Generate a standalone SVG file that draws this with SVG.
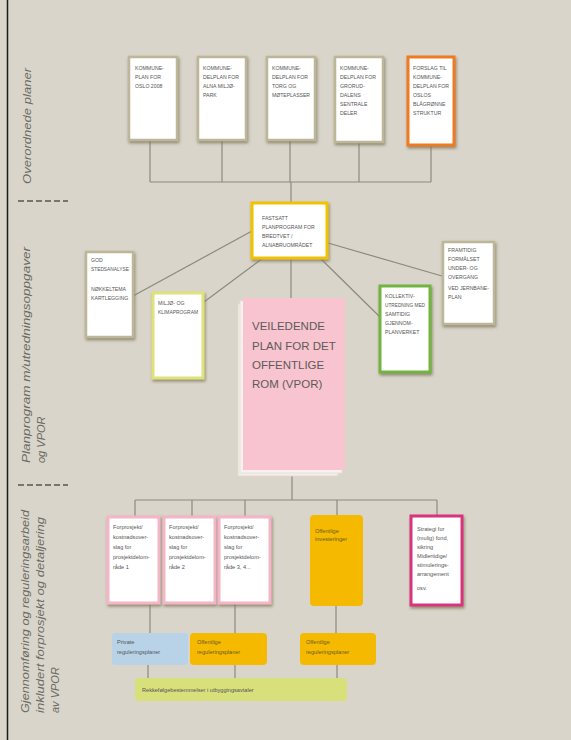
<svg xmlns="http://www.w3.org/2000/svg" width="571" height="740" viewBox="0 0 571 740">
<defs>
<filter id="sh" x="-20%" y="-20%" width="140%" height="140%">
<feGaussianBlur in="SourceAlpha" stdDeviation="1.5"/>
<feOffset dx="1" dy="2" result="b"/>
<feFlood flood-color="#7d7658" flood-opacity="0.8"/>
<feComposite in2="b" operator="in"/>
<feMerge><feMergeNode/><feMergeNode in="SourceGraphic"/></feMerge>
</filter>
</defs>
<style>
.bx{fill:#ffffff;stroke:#bdb699;stroke-width:2.5;filter:url(#sh)}
.t{font-family:"Liberation Sans",Arial,sans-serif;font-size:5.2px;fill:#555}
.tl{font-family:"Liberation Sans",Arial,sans-serif;font-size:5.6px;fill:#555}
.lab{font-family:"Liberation Sans",Arial,sans-serif;font-size:11px;font-style:italic;fill:#6a6a64}
.vp{font-family:"Liberation Sans",Arial,sans-serif;font-size:11.5px;fill:#5e5a5a}
.ln{stroke:#8b8a80;stroke-width:1.2;fill:none}
.dash{stroke:#77766e;stroke-width:2;stroke-dasharray:6 3}
</style>
<rect x="0" y="0" width="571" height="740" fill="#d9d5ca"/>
<line x1="7.5" y1="0" x2="7.5" y2="740" stroke="#1a1a1a" stroke-width="1.5"/>

<g id="labels">
<text class="lab" transform="translate(31,184) rotate(-90)" textLength="116" lengthAdjust="spacingAndGlyphs">Overordnede planer</text>
<text class="lab" transform="translate(30,463) rotate(-90)" textLength="216" lengthAdjust="spacingAndGlyphs">Planprogram m/utredningsoppgaver</text>
<text class="lab" transform="translate(45,463) rotate(-90)">og VPOR</text>
<text class="lab" transform="translate(29,713) rotate(-90)" textLength="203" lengthAdjust="spacingAndGlyphs">Gjennomføring og reguleringsarbeid</text>
<text class="lab" transform="translate(44,713) rotate(-90)" textLength="196" lengthAdjust="spacingAndGlyphs">inkludert forprosjekt og detaljering</text>
<text class="lab" transform="translate(59,713) rotate(-90)">av VPOR</text>
<line class="dash" x1="18" y1="201" x2="68" y2="201"/>
<line class="dash" x1="18" y1="485" x2="68" y2="485"/>
</g>

<g id="connectors">
<line class="ln" x1="150" y1="140" x2="150" y2="182"/>
<line class="ln" x1="222" y1="140" x2="222" y2="182"/>
<line class="ln" x1="290" y1="140" x2="290" y2="182"/>
<line class="ln" x1="359" y1="142" x2="359" y2="182"/>
<line class="ln" x1="431" y1="145" x2="431" y2="182"/>
<line class="ln" x1="150" y1="182" x2="431" y2="182"/>
<line class="ln" x1="291" y1="182" x2="291" y2="203"/>
<line class="ln" x1="252" y1="231" x2="133" y2="296"/>
<line class="ln" x1="263" y1="258" x2="204" y2="302"/>
<line class="ln" x1="291" y1="258" x2="291" y2="298"/>
<line class="ln" x1="320" y1="258" x2="381" y2="318"/>
<line class="ln" x1="328" y1="243" x2="442" y2="276"/>
<line class="ln" x1="292" y1="472" x2="292" y2="500"/>
<line class="ln" x1="135" y1="500" x2="437" y2="500"/>
<line class="ln" x1="135" y1="500" x2="135" y2="517"/>
<line class="ln" x1="192" y1="500" x2="192" y2="517"/>
<line class="ln" x1="245" y1="500" x2="245" y2="517"/>
<line class="ln" x1="337" y1="500" x2="337" y2="515"/>
<line class="ln" x1="437" y1="500" x2="437" y2="515"/>
<line class="ln" x1="150" y1="603" x2="150" y2="633"/>
<line class="ln" x1="235" y1="603" x2="235" y2="633"/>
<line class="ln" x1="336" y1="606" x2="336" y2="633"/>
<line class="ln" x1="148" y1="665" x2="148" y2="678"/>
<line class="ln" x1="235" y1="665" x2="235" y2="678"/>
<line class="ln" x1="337" y1="665" x2="337" y2="678"/>
</g>

<g id="top1">
<rect class="bx" x="129" y="57" width="48" height="83"/>
<text class="t" x="135" y="70">KOMMUNE-</text>
<text class="t" x="135" y="79">PLAN FOR</text>
<text class="t" x="135" y="88">OSLO 2008</text>
</g>
<g id="top2">
<rect class="bx" x="198" y="57" width="48" height="83"/>
<text class="t" x="203" y="70">KOMMUNE-</text>
<text class="t" x="203" y="79">DELPLAN FOR</text>
<text class="t" x="203" y="88">ALNA MILJØ-</text>
<text class="t" x="203" y="97">PARK</text>
</g>
<g id="top3">
<rect class="bx" x="267" y="57" width="48" height="83"/>
<text class="t" x="272" y="70">KOMMUNE-</text>
<text class="t" x="272" y="79">DELPLAN FOR</text>
<text class="t" x="272" y="88">TORG OG</text>
<text class="t" x="272" y="97" textLength="38" lengthAdjust="spacingAndGlyphs">MØTEPLASSER</text>
</g>
<g id="top4">
<rect class="bx" x="335" y="57" width="48" height="85"/>
<text class="t" x="340" y="70">KOMMUNE-</text>
<text class="t" x="340" y="79">DELPLAN FOR</text>
<text class="t" x="340" y="88">GRORUD-</text>
<text class="t" x="340" y="97">DALENS</text>
<text class="t" x="340" y="106">SENTRALE</text>
<text class="t" x="340" y="115">DELER</text>
</g>
<g id="top5">
<rect class="bx" x="408" y="57" width="46" height="88" style="stroke:#ee7a22;stroke-width:3"/>
<text class="t" x="413" y="70">FORSLAG TIL</text>
<text class="t" x="413" y="79">KOMMUNE-</text>
<text class="t" x="413" y="88">DELPLAN FOR</text>
<text class="t" x="413" y="97">OSLOS</text>
<text class="t" x="413" y="106">BLÅGRØNNE</text>
<text class="t" x="413" y="115">STRUKTUR</text>
</g>

<g id="planprogram">
<rect class="bx" x="252" y="203" width="75" height="55" style="stroke:#f2c200;stroke-width:3"/>
<text class="t" x="262" y="220">FASTSATT</text>
<text class="t" x="262" y="229">PLANPROGRAM FOR</text>
<text class="t" x="262" y="238">BREDTVET /</text>
<text class="t" x="262" y="247">ALNABRUOMRÅDET</text>
</g>
<g id="stedsanalyse">
<rect class="bx" x="86" y="252" width="47" height="85"/>
<text class="t" x="91" y="262">GOD</text>
<text class="t" x="91" y="271" textLength="38" lengthAdjust="spacingAndGlyphs">STEDSANALYSE</text>
<text class="t" x="91" y="291">NØKKELTEMA</text>
<text class="t" x="91" y="300">KARTLEGGING</text>
</g>
<g id="miljo">
<rect class="bx" x="153" y="293" width="50" height="85" style="stroke:#dfe27a;stroke-width:3"/>
<text class="t" x="158" y="305">MILJØ- OG</text>
<text class="t" x="158" y="314" textLength="40" lengthAdjust="spacingAndGlyphs">KLIMAPROGRAM</text>
</g>
<g id="vpor">
<rect x="238" y="304" width="100" height="172" fill="#f3eee8" stroke="#e2d8d0" stroke-width="0.8"/>
<rect x="240" y="301" width="102" height="172" fill="#f8f1ee" stroke="#e6dcd6" stroke-width="0.8"/>
<rect x="243" y="298" width="102" height="172" fill="#f7c4cf"/>
<text class="vp" x="252" y="330">VEILEDENDE</text>
<text class="vp" x="252" y="350">PLAN FOR DET</text>
<text class="vp" x="252" y="369">OFFENTLIGE</text>
<text class="vp" x="252" y="388">ROM (VPOR)</text>
</g>
<g id="kollektiv">
<rect class="bx" x="380" y="286" width="50" height="86" style="stroke:#72b443;stroke-width:3"/>
<text class="t" x="385" y="298">KOLLEKTIV-</text>
<text class="t" x="385" y="307" textLength="40" lengthAdjust="spacingAndGlyphs">UTREDNING MED</text>
<text class="t" x="385" y="316">SAMTIDIG</text>
<text class="t" x="385" y="325">GJENNOM-</text>
<text class="t" x="385" y="334">PLANVERKET</text>
</g>
<g id="framtid">
<rect class="bx" x="443" y="242" width="51" height="82"/>
<text class="t" x="448" y="252">FRAMTIDIG</text>
<text class="t" x="448" y="261">FORMÅLSET</text>
<text class="t" x="448" y="270">UNDER- OG</text>
<text class="t" x="448" y="279">OVERGANG</text>
<text class="t" x="448" y="290" textLength="41" lengthAdjust="spacingAndGlyphs">VED JERNBANE-</text>
<text class="t" x="448" y="299">PLAN</text>
</g>

<g id="forprosjekt1">
<rect class="bx" x="108" y="517" width="51" height="86" style="stroke:#f4b6c6;stroke-width:3"/>
<text class="tl" x="113" y="529">Forprosjekt/</text>
<text class="tl" x="113" y="539">kostnadsover-</text>
<text class="tl" x="113" y="549">slag for</text>
<text class="tl" x="113" y="559">prosjektdelom-</text>
<text class="tl" x="113" y="569">råde 1</text>
</g>
<g id="forprosjekt2">
<rect class="bx" x="164" y="517" width="51" height="86" style="stroke:#f4b6c6;stroke-width:3"/>
<text class="tl" x="169" y="529">Forprosjekt/</text>
<text class="tl" x="169" y="539">kostnadsover-</text>
<text class="tl" x="169" y="549">slag for</text>
<text class="tl" x="169" y="559">prosjektdelom-</text>
<text class="tl" x="169" y="569">råde 2</text>
</g>
<g id="forprosjekt3">
<rect class="bx" x="219" y="517" width="51" height="86" style="stroke:#f4b6c6;stroke-width:3"/>
<text class="tl" x="224" y="529">Forprosjekt/</text>
<text class="tl" x="224" y="539">kostnadsover-</text>
<text class="tl" x="224" y="549">slag for</text>
<text class="tl" x="224" y="559">prosjektdelom-</text>
<text class="tl" x="224" y="569">råde 3, 4...</text>
</g>
<g id="investeringer">
<rect x="310" y="515" width="53" height="91" rx="4" fill="#f5b900"/>
<text class="tl" x="315" y="533" style="fill:#6b5a20">Offentlige</text>
<text class="tl" x="315" y="541" style="fill:#6b5a20">investeringer</text>
</g>
<g id="strategi">
<rect class="bx" x="411" y="516" width="51" height="89" style="stroke:#d9327e;stroke-width:3"/>
<text class="tl" x="417" y="531">Strategi for</text>
<text class="tl" x="417" y="540">(mulig) fond,</text>
<text class="tl" x="417" y="549">sikring</text>
<text class="tl" x="417" y="558">Midlertidige/</text>
<text class="tl" x="417" y="567">stimulerings-</text>
<text class="tl" x="417" y="576">arrangement</text>
<text class="tl" x="417" y="590">osv.</text>
</g>

<g id="private">
<rect x="112" y="633" width="76" height="32" rx="3" fill="#b8d3e8"/>
<text class="tl" x="117" y="644">Private</text>
<text class="tl" x="117" y="654">reguleringsplaner</text>
</g>
<g id="offentlige1">
<rect x="190" y="633" width="77" height="32" rx="4" fill="#f5b900"/>
<text class="tl" x="197" y="644" style="fill:#6b5a20">Offentlige</text>
<text class="tl" x="197" y="654" style="fill:#6b5a20">reguleringsplaner</text>
</g>
<g id="offentlige2">
<rect x="300" y="633" width="76" height="32" rx="4" fill="#f5b900"/>
<text class="tl" x="306" y="644" style="fill:#6b5a20">Offentlige</text>
<text class="tl" x="306" y="654" style="fill:#6b5a20">reguleringsplaner</text>
</g>
<g id="rekkefolge">
<rect x="135" y="678" width="212" height="23" rx="3" fill="#d8e07c"/>
<text class="tl" x="142" y="692">Rekkefølgebestemmelser i utbyggingsavtaler</text>
</g>
</svg>
